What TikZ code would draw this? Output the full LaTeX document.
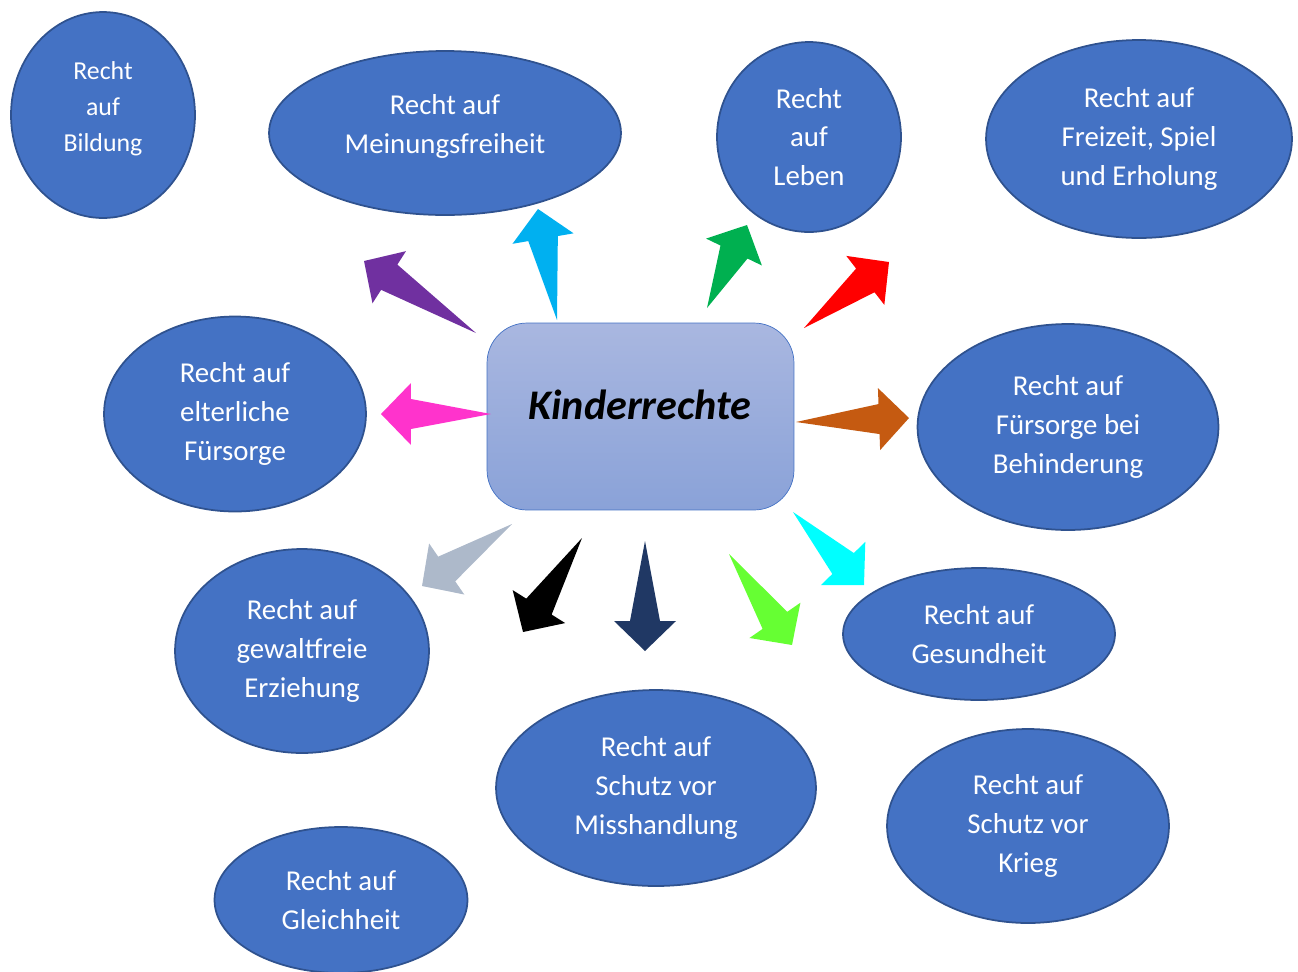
\documentclass[tikz,border=0pt]{standalone}
\usepackage{fontspec}
\setmainfont{Carlito}
\usepackage{tikz}
\usetikzlibrary{shapes.geometric}
\usetikzlibrary{calc}
\definecolor{bubblefill}{HTML}{4472C4}
\definecolor{bubbleline}{HTML}{2F528F}
\definecolor{hubtop}{HTML}{A9B7E0}
\definecolor{hubbottom}{HTML}{8AA2D8}
\definecolor{hubline}{HTML}{4472C4}
\definecolor{arrpurple}{HTML}{7030A0}
\definecolor{arrsky}{HTML}{00B0F0}
\definecolor{arrgreen}{HTML}{00B050}
\definecolor{arrred}{HTML}{FF0000}
\definecolor{arrpink}{HTML}{FF33CC}
\definecolor{arrorange}{HTML}{C55A11}
\definecolor{arrgray}{HTML}{ADB9CA}
\definecolor{arrblack}{HTML}{000000}
\definecolor{arrnavy}{HTML}{203864}
\definecolor{arrlime}{HTML}{66FF33}
\definecolor{arrcyan}{HTML}{00FFFF}
\tikzset{
  recht node/.style 2 args={
    ellipse,
    draw=bubbleline,
    fill=bubblefill,
    line width=1pt,
    inner sep=0pt,
    align=center,
    text=white,
    font=\fontsize{16.4}{22.1}\selectfont,
    minimum width=#1,
    minimum height=#2,
  }
}
\tikzset{
  hub node/.style={
    rectangle,
    rounded corners=0.8cm,
    draw=hubline,
    top color=hubtop,
    bottom color=hubbottom,
    minimum width=6.14cm,
    minimum height=3.74cm,
  }
}

\begin{document}
\begin{tikzpicture}[
    x=0.02cm,
    y=-0.02cm,
    ]

    \useasboundingbox (0,0) rectangle (1298,971);

    \node[hub node] (hub) at (640.5,416.5) {};
    \node[font=\fontsize{24}{29}\selectfont\bfseries\itshape]
      (title) at (640,405) {Kinderrechte};

    \node[recht node={3.68cm}{4.12cm}, font=\fontsize{14.7}{20.4}\selectfont, text depth=10pt]
      (bildung) at (103,115) {Recht\\auf\\Bildung};
    \node[recht node={7.04cm}{3.28cm}, text depth=10pt]
      (meinung) at (445,133) {Recht auf\\Meinungsfreiheit};
    \node[recht node={3.68cm}{3.80cm}] (leben) at (809,137) {Recht\\auf\\Leben};
    \node[recht node={6.12cm}{3.96cm}] (freizeit) at (1139,139) {Recht auf\\Freizeit, Spiel\\und Erholung};
    \node[recht node={5.24cm}{3.90cm}] (eltern) at (235,414) {Recht auf\\elterliche\\Fürsorge};
    \node[recht node={6.02cm}{4.12cm}] (behinderung) at (1068,427) {Recht auf\\Fürsorge bei\\Behinderung};
    \node[recht node={5.08cm}{4.08cm}] (erziehung) at (302,651) {Recht auf\\gewaltfreie\\Erziehung};
    \node[recht node={5.44cm}{2.64cm}] (gesundheit) at (979,634) {Recht auf\\Gesundheit};
    \node[recht node={6.40cm}{3.92cm}] (misshandlung) at (656,788) {Recht auf\\Schutz vor\\Misshandlung};
    \node[recht node={5.64cm}{3.88cm}] (krieg) at (1028,826) {Recht auf\\Schutz vor\\Krieg};
    \node[recht node={5.06cm}{2.92cm}] (gleichheit) at (341,900) {Recht auf\\Gleichheit};

    \coordinate (purple-from) at (476,333);
    \coordinate (purple-to) at (364,261);
    \coordinate (sky-from) at (557,320);
    \coordinate (sky-to) at (538,209);
    \coordinate (green-from) at (707,308);
    \coordinate (green-to) at (747,225);
    \coordinate (red-from) at (804,328);
    \coordinate (red-to) at (889,262);
    \coordinate (pink-from) at (491,414);
    \coordinate (pink-to) at (381,414);
    \coordinate (orange-from) at (796,422);
    \coordinate (orange-to) at (909,418);
    \coordinate (gray-from) at (512,524);
    \coordinate (gray-to) at (422,586);
    \coordinate (black-from) at (582,538);
    \coordinate (black-to) at (523,632);
    \coordinate (navy-from) at (645,541);
    \coordinate (navy-to) at (645,651);
    \coordinate (lime-from) at (729,554);
    \coordinate (lime-to) at (792,645);
    \coordinate (cyan-from) at (793,512);
    \coordinate (cyan-to) at (864,585);

    \foreach \x in {purple,sky,green,red,pink,orange,gray,black,navy,lime,cyan}{
      \coordinate (\x-neck) at ($(\x-to)!0.6cm!(\x-from)$);
      \fill[arr\x] (\x-from)
        -- ($(\x-neck)!0.3cm!90:(\x-to)$)
        -- ($(\x-neck)!0.62cm!90:(\x-to)$)
        -- (\x-to)
        -- ($(\x-neck)!0.62cm!-90:(\x-to)$)
        -- ($(\x-neck)!0.3cm!-90:(\x-to)$)
        -- cycle;
    }

  \end{tikzpicture}
\end{document}
